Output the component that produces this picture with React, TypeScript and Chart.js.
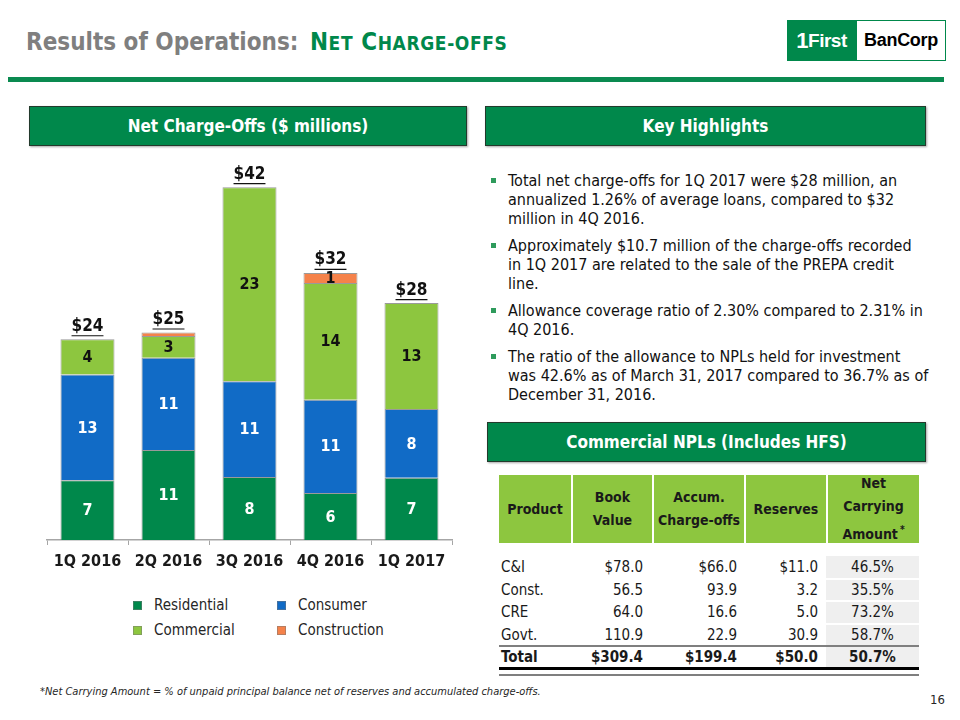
import React, { useEffect, useRef } from "react";
import { Chart, registerables } from "chart.js";

Chart.register(...registerables);

const FONT = "'DejaVu Sans Condensed', 'DejaVu Sans', sans-serif";

// ---- Chart data ----
const categories = ["1Q 2016", "2Q 2016", "3Q 2016", "4Q 2016", "1Q 2017"];
const residential = [7.1, 10.7, 7.5, 5.6, 7.4];
const consumer = [12.6, 11.0, 11.4, 11.1, 8.2];
const commercial = [4.2, 2.6, 23.1, 13.9, 12.6];
const construction = [0, 0.4, 0, 1.2, 0];
const seriesNames = ["Residential", "Consumer", "Commercial", "Construction"];
const seriesColors = ["#00884B", "#116BC6", "#8DC63F", "#F5824A"];
const labelColors = ["#FFFFFF", "#FFFFFF", "#111111", "#111111"];

// ---- Highlights ----
const highlights = [
  ["Total net charge-offs for 1Q 2017 were $28 million, an", "annualized 1.26% of average loans, compared to $32", "million in 4Q 2016."],
  ["Approximately $10.7 million of the charge-offs recorded", "in 1Q 2017 are related to the sale of the PREPA credit", "line."],
  ["Allowance coverage ratio of 2.30% compared to 2.31% in", "4Q 2016."],
  ["The ratio of the allowance to NPLs held for investment", "was 42.6% as of March 31, 2017 compared to 36.7% as of", "December 31, 2016."],
];

// ---- Table ----
const tableProducts = ["C&I", "Const.", "CRE", "Govt."];
const tableBook = ["$78.0", "56.5", "64.0", "110.9"];
const tableAccum = ["$66.0", "93.9", "16.6", "22.9"];
const tableReserves = ["$11.0", "3.2", "5.0", "30.9"];
const tableNet = ["46.5%", "35.5%", "73.2%", "58.7%"];
const tableTotal = ["Total", "$309.4", "$199.4", "$50.0", "50.7%"];
const colWidths = [72, 81, 92, 82, 93];

const labelPlugin = {
  id: "segLabels",
  afterDatasetsDraw(chart: any) {
    const ctx = chart.ctx;
    ctx.save();
    ctx.textAlign = "center";
    ctx.textBaseline = "middle";
    ctx.font = `bold 16px ${FONT}`;
    const tops: number[] = [];
    const xs: number[] = [];
    chart.data.datasets.forEach((ds: any, di: number) => {
      const meta = chart.getDatasetMeta(di);
      meta.data.forEach((bar: any, i: number) => {
        const v = ds.data[i] as number;
        const { x, y, base } = bar.getProps(["x", "y", "base"], true);
        xs[i] = x;
        if (v > 0) tops[i] = tops[i] === undefined ? y : Math.min(tops[i], y);
        const r = Math.round(v);
        if (r < 1) return;
        ctx.fillStyle = labelColors[di];
        ctx.fillText(String(r), x, (y + base) / 2 + 1);
      });
    });
    ctx.font = `bold 17px ${FONT}`;
    ctx.fillStyle = "#111111";
    ctx.strokeStyle = "#111111";
    ctx.lineWidth = 1.2;
    categories.forEach((_, i) => {
      const sum = residential[i] + consumer[i] + commercial[i] + construction[i];
      const t = `$${Math.round(sum)}`;
      const cy = tops[i] - 13;
      ctx.fillText(t, xs[i], cy);
      const w = ctx.measureText(t).width;
      ctx.beginPath();
      ctx.moveTo(xs[i] - w / 2, cy + 9.5);
      ctx.lineTo(xs[i] + w / 2, cy + 9.5);
      ctx.stroke();
    });
    ctx.restore();
  },
};

function NcoChart() {
  const ref = useRef<HTMLCanvasElement>(null);
  useEffect(() => {
    if (!ref.current) return;
    const data = [residential, consumer, commercial, construction];
    const chart = new Chart(ref.current, {
      type: "bar",
      data: {
        labels: categories,
        datasets: data.map((d, i) => ({
          label: seriesNames[i],
          data: d,
          backgroundColor: seriesColors[i],
          borderColor: "rgba(120,120,120,0.75)",
          borderWidth: 1,
          barPercentage: 0.667,
          categoryPercentage: 1,
        })),
      },
      options: {
        animation: false,
        responsive: true,
        maintainAspectRatio: false,
        layout: { padding: { left: 18, right: 15, top: 12, bottom: 0 } },
        plugins: { legend: { display: false }, tooltip: { enabled: false } },
        scales: {
          x: {
            stacked: true,
            grid: { display: true, drawOnChartArea: false, drawTicks: true, tickLength: 5, color: "#A6A6A6", offset: true },
            border: { display: true, color: "#A6A6A6", width: 1.5 },
            ticks: { color: "#1a1a1a", font: { family: FONT, size: 16, weight: "bold" }, padding: 7, maxRotation: 0 },
            afterFit: (s: any) => {
              s.height = 40;
            },
          },
          y: { stacked: true, display: false, min: 0, max: 45 },
        },
      } as any,
      plugins: [labelPlugin],
    });
    return () => chart.destroy();
  }, []);
  return (
    <div style={{ position: "absolute", left: 29, top: 150, width: 438, height: 430 }}>
      <canvas ref={ref} />
    </div>
  );
}

const headerBox = (left: number, top: number, width: number, text: string) => (
  <div
    style={{
      position: "absolute",
      left,
      top,
      width,
      height: 40,
      background: "#00884B",
      border: "1px solid #233a2c",
      boxShadow: "1px 1px 2px rgba(0,0,0,0.35)",
      color: "#fff",
      fontWeight: "bold",
      fontSize: 17,
      display: "flex",
      alignItems: "center",
      justifyContent: "center",
      boxSizing: "border-box",
    }}
  >
    {text}
  </div>
);

export default function App() {
  const legendItems = [
    { name: seriesNames[0], color: seriesColors[0], x: 133, y: 605 },
    { name: seriesNames[1], color: seriesColors[1], x: 277, y: 605 },
    { name: seriesNames[2], color: seriesColors[2], x: 133, y: 630 },
    { name: seriesNames[3], color: seriesColors[3], x: 277, y: 630 },
  ];
  const colLefts = colWidths.map((_, i) => colWidths.slice(0, i).reduce((a, b) => a + b, 0));
  const rows = tableProducts.map((p, i) => [p, tableBook[i], tableAccum[i], tableReserves[i], tableNet[i]]);
  const aligns: any[] = ["left", "right", "right", "right", "center"];
  const pads = [{ paddingLeft: 2 }, { paddingRight: 9 }, { paddingRight: 7 }, { paddingRight: 8 }, {}];
  const rowH = 22.5;
  const rowTop = 556;

  return (
    <div
      style={{
        position: "absolute",
        left: 0,
        top: 0,
        width: 960,
        height: 720,
        background: "#fff",
        fontFamily: FONT,
        color: "#1a1a1a",
        overflow: "hidden",
      }}
    >
      {/* Title */}
      <div style={{ position: "absolute", left: 26, top: 26, fontSize: 24, fontWeight: "bold", lineHeight: "32px", whiteSpace: "nowrap" }}>
        <span style={{ color: "#7F7F7F" }}>Results of Operations: </span>
        <span style={{ color: "#00884B", letterSpacing: 0.6, marginLeft: 4 }}>
          N<span style={{ fontSize: 19 }}>ET</span> C<span style={{ fontSize: 19 }}>HARGE-OFFS</span>
        </span>
      </div>
      {/* Logo */}
      <div style={{ position: "absolute", left: 787, top: 20, width: 69, height: 41, background: "#00884B", color: "#fff", fontFamily: "'Liberation Sans', Arial, sans-serif", fontWeight: "bold", fontSize: 19, display: "flex", alignItems: "center", justifyContent: "center", letterSpacing: -0.5 }}>
        <span style={{ fontSize: 22 }}>1</span>First
      </div>
      <div style={{ position: "absolute", left: 856, top: 20, width: 90, height: 41, boxSizing: "border-box", border: "1px solid #00884B", color: "#000", fontFamily: "'Liberation Sans', Arial, sans-serif", fontWeight: "bold", fontSize: 18, display: "flex", alignItems: "center", justifyContent: "center", letterSpacing: -0.3 }}>
        BanCorp
      </div>
      {/* Green rule */}
      <div style={{ position: "absolute", left: 8, top: 77, width: 936, height: 5, background: "#0A8A50" }} />

      {headerBox(29, 106, 438, "Net Charge-Offs ($ millions)")}
      {headerBox(485, 106, 441, "Key Highlights")}
      {headerBox(487, 422, 439, "Commercial NPLs (Includes HFS)")}

      <NcoChart />

      {/* Legend */}
      {legendItems.map((it) => (
        <div key={it.name} style={{ position: "absolute", left: it.x, top: it.y - 10, height: 20, display: "flex", alignItems: "center", fontSize: 15, color: "#262626", whiteSpace: "nowrap" }}>
          <span style={{ display: "inline-block", width: 9, height: 9, background: it.color, marginRight: 12, border: "1px solid rgba(120,120,120,0.5)", boxSizing: "border-box" }} />
          {it.name}
        </div>
      ))}

      {/* Highlights */}
      <div style={{ position: "absolute", left: 491, top: 171, width: 440, fontSize: 16, lineHeight: "19px", color: "#111" }}>
        {highlights.map((p, i) => (
          <div key={i} style={{ position: "relative", paddingLeft: 17, marginBottom: 8 }}>
            <span style={{ position: "absolute", left: 0, top: 7, width: 5, height: 5, background: "#2E9B5C" }} />
            {p.map((line, j) => (
              <div key={j} style={{ whiteSpace: "nowrap" }}>{line}</div>
            ))}
          </div>
        ))}
      </div>

      {/* Table header */}
      <div style={{ position: "absolute", left: 499, top: 475, width: 420, height: 68, background: "#8DC63F" }}>
        {["Product", "Book\nValue", "Accum.\nCharge-offs", "Reserves", "Net\nCarrying\nAmount"].map((h, i) => (
          <div
            key={i}
            style={{
              position: "absolute",
              left: colLefts[i],
              top: 0,
              width: colWidths[i],
              height: 68,
              borderLeft: i > 0 ? "2px solid #fff" : "none",
              boxSizing: "border-box",
              display: "flex",
              flexDirection: "column",
              alignItems: "center",
              justifyContent: "center",
              fontWeight: "bold",
              fontSize: 14,
              lineHeight: "23px",
              color: "#1a1a1a",
              textAlign: "center",
            }}
          >
            {h.split("\n").map((l, k) => (
              <div key={k} style={{ whiteSpace: "nowrap" }}>
                {l}
                {i === 4 && k === 2 ? <sup style={{ fontSize: 10, marginLeft: 2 }}>*</sup> : null}
              </div>
            ))}
          </div>
        ))}
      </div>

      {/* Net column background */}
      <div style={{ position: "absolute", left: 499 + colLefts[4], top: rowTop, width: colWidths[4], height: rowH * 5, background: "#EFEFEF" }} />
      {[1, 2, 3].map((k) => (
        <div key={k} style={{ position: "absolute", left: 499 + colLefts[4], top: rowTop + rowH * k - 1, width: colWidths[4], height: 2, background: "#fff" }} />
      ))}

      {/* Table rows */}
      {rows.concat([tableTotal]).map((r, ri) => {
        const isTotal = ri === rows.length;
        const top = rowTop + ri * rowH;
        return (
          <div key={ri} style={{ position: "absolute", left: 499, top, width: 420, height: rowH }}>
            {r.map((c, ci) => (
              <div
                key={ci}
                style={{
                  position: "absolute",
                  left: colLefts[ci],
                  top: 0,
                  width: colWidths[ci],
                  height: rowH,
                  boxSizing: "border-box",
                  textAlign: aligns[ci],
                  fontSize: 15,
                  lineHeight: `${rowH}px`,
                  fontWeight: isTotal ? "bold" : "normal",
                  whiteSpace: "nowrap",
                  ...pads[ci],
                }}
              >
                {c}
              </div>
            ))}
          </div>
        );
      })}
      {/* Total row rules */}
      <div style={{ position: "absolute", left: 499, top: 645, width: 420, height: 2, background: "#7F7F7F" }} />
      <div style={{ position: "absolute", left: 499, top: 667, width: 420, height: 3, background: "#000" }} />
      <div style={{ position: "absolute", left: 499, top: 674, width: 420, height: 2, background: "#7F7F7F" }} />

      {/* Footnote */}
      <div style={{ position: "absolute", left: 40, top: 685, fontSize: 11, fontStyle: "italic", color: "#262626", whiteSpace: "nowrap" }}>
        *Net Carrying Amount = % of unpaid principal balance net of reserves and accumulated charge-offs.
      </div>
      <div style={{ position: "absolute", left: 930, top: 692, fontSize: 13, color: "#262626" }}>16</div>
    </div>
  );
}
